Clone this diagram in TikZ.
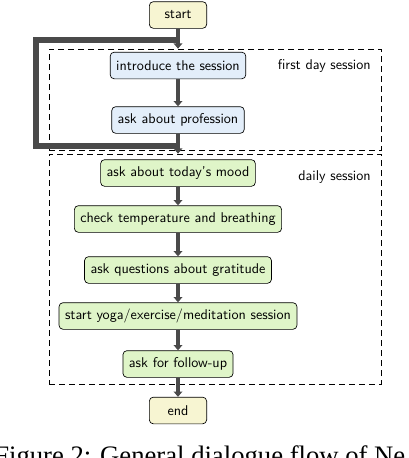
\documentclass[tikz,border=0pt]{standalone}
\usepackage{fontspec}
\newfontfamily\capfont{Liberation Serif}
\usepackage{xcolor}
\usetikzlibrary{positioning,arrows.meta,fit}

\definecolor{termfill}{HTML}{F7F5D2}
\definecolor{introfill}{HTML}{E3EEFA}
\definecolor{dailyfill}{HTML}{DFF5C8}
\definecolor{flowgray}{HTML}{4A4A4A}

\tikzset{
  stepbox/.style={draw, rounded corners=3pt, line width=0.5pt,
    font=\fontsize{10.6}{12}\sffamily, minimum height=20pt, inner xsep=4.5pt},
  termbox/.style={stepbox, fill=termfill, minimum width=43pt},
  introbox/.style={stepbox, fill=introfill},
  dailybox/.style={stepbox, fill=dailyfill},
  groupbox/.style={draw, dashed, dash pattern=on 4.5pt off 3pt, line width=0.5pt,
    inner sep=0pt},
  grouplabel/.style={font=\fontsize{10.6}{12}\sffamily, anchor=east, inner sep=0pt},
  flow/.style={->, draw=flowgray, fill=flowgray, line width=3.6pt},
  skipline/.style={draw=flowgray, line width=4.2pt, line join=miter},
}

\begin{document}
\begin{tikzpicture}[x=0.75pt, y=-0.75pt, >={Triangle[length=4pt, width=6.5pt]}]
  \path[use as bounding box, clip] (0,0) rectangle (408,458);

  % session groups
  \node[groupbox, fit={(49,49) (381,150)}] (firstday) {};
  \node[groupbox, fit={(49,154) (381,384)}] (daily) {};
  \node[grouplabel] (firstlabel) at (371,66) {first day session};
  \node[grouplabel] (dailylabel) at (371,177) {daily session};

  % steps
  \node[termbox]  (start)  at (178,15)  {start};
  \node[introbox] (intro)  at (178,65.5) {introduce the session};
  \node[introbox] (prof)   at (178,120) {ask about profession};
  \node[dailybox] (mood)   at (178,173) {ask about today's mood};
  \node[dailybox] (temp)   at (178,219) {check temperature and breathing};
  \node[dailybox] (grat)   at (178,270) {ask questions about gratitude};
  \node[dailybox] (yoga)   at (178,316) {start yoga/exercise/meditation session};
  \node[dailybox] (follow) at (178,364) {ask for follow-up};
  \node[termbox]  (end)    at (178,410.5) {end};

  % skip the first day
  \coordinate (split) at (178,40);
  \coordinate (merge) at (178,146);
  \draw[skipline] (split) -- ++(-142,0) |- (merge);

  \draw[flow] (start) -- (start |- firstday.north);
  \draw[flow] (intro) -- (prof);
  \draw[flow] (prof) -- (prof |- daily.north);
  \draw[flow] (mood) -- (temp);
  \draw[flow] (temp) -- (grat);
  \draw[flow] (grat) -- (yoga);
  \draw[flow] (yoga) -- (follow);
  \draw[flow] (follow) -- (end);

  \node[anchor=base west, inner sep=0pt, font=\capfont\fontsize{20}{24}\selectfont]
    (caption) at (-6,464) {Figure 2: General dialogue flow of Ne};
\end{tikzpicture}
\end{document}
